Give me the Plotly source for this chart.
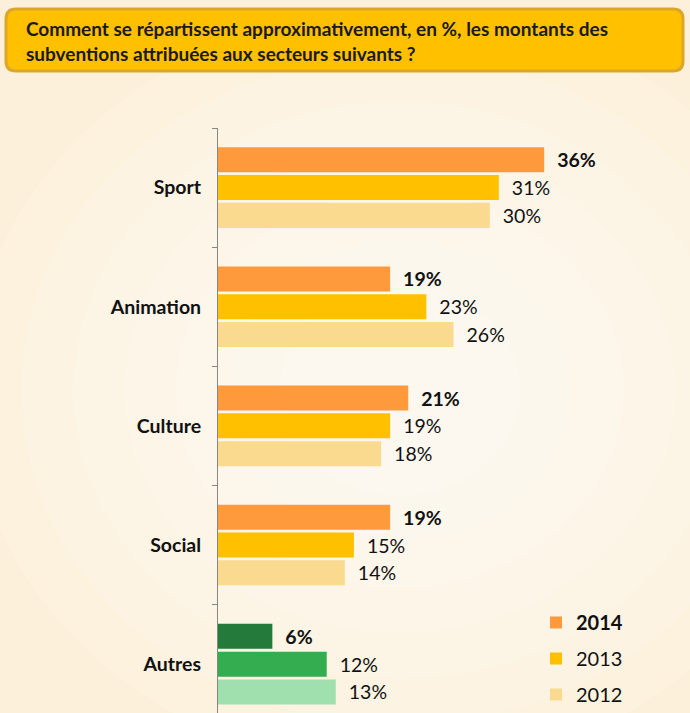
import plotly.graph_objects as go

# data
sectors = ["Sport", "Animation", "Culture", "Social", "Autres"]
years = ["2014", "2013", "2012"]
v2014 = [36, 19, 21, 19, 6]
v2013 = [31, 23, 19, 15, 12]
v2012 = [30, 26, 18, 14, 13]

colors = {
    "2014": ["#FF9A3C"] * 4 + ["#237A3B"],
    "2013": ["#FFC000"] * 4 + ["#34AD50"],
    "2012": ["#F9DA8F"] * 4 + ["#A0E0AF"],
}

FONT = "Lato, Carlito, sans-serif"
W, H = 690, 713
L, T = 218, 128
plot_w, plot_h = W - L, H - T


def px(x):
    return (x - L) / plot_w


def py(y):
    return (H - y) / plot_h


fig = go.Figure()
for yr, vals in zip(years, [v2014, v2013, v2012]):
    bold = yr == "2014"
    txt = ["\u00a0\u00a0" + (f"<b>{v}%</b>" if bold else f"{v}%") for v in vals]
    fig.add_trace(go.Bar(
        y=sectors, x=vals, orientation="h",
        name=f"<b>{yr}</b>" if bold else yr,
        legendgroup=yr,
        marker=dict(color=colors[yr], line=dict(width=0)),
        text=txt, textposition="outside",
        textfont=dict(size=19.5, color="#111111", family=FONT),
        cliponaxis=False,
        hoverinfo="skip",
    ))

# soft light glow in the middle of the background
shapes = []
for r in [1.0, 0.88, 0.76, 0.64, 0.52, 0.40, 0.28]:
    cx, cy = 400, 390
    rx, ry = 430 * r, 380 * r
    shapes.append(dict(type="circle", xref="paper", yref="paper", layer="below",
                       x0=px(cx - rx), x1=px(cx + rx), y0=py(cy + ry), y1=py(cy - ry),
                       fillcolor="rgba(255,255,255,0.13)", line=dict(width=0)))

# title box with rounded corners
x0, x1, y0, y1, rr = 6, 683, 9, 71, 10
rx_, ry_ = rr / plot_w, rr / plot_h
a, b, c, d = px(x0), px(x1), py(y1), py(y0)
path = (f"M {a+rx_},{d} L {b-rx_},{d} Q {b},{d} {b},{d-ry_} L {b},{c+ry_} Q {b},{c} {b-rx_},{c} "
        f"L {a+rx_},{c} Q {a},{c} {a},{c+ry_} L {a},{d-ry_} Q {a},{d} {a+rx_},{d} Z")
shapes.append(dict(type="path", xref="paper", yref="paper", path=path,
                   fillcolor="#FFC000", line=dict(color="#DDA629", width=3)))

fig.update_layout(
    width=W, height=H,
    margin=dict(l=L, r=0, t=T, b=0, autoexpand=False),
    paper_bgcolor="#FCF0DA",
    plot_bgcolor="rgba(0,0,0,0)",
    barmode="group", bargap=0.3, bargroupgap=0.1,
    font=dict(family=FONT, color="#111111"),
    xaxis=dict(range=[0, plot_w / 9.06], visible=False, fixedrange=True),
    yaxis=dict(
        range=[4.41, -0.5], tickson="boundaries", ticks="outside", ticklen=5,
        tickcolor="#868686", showline=True, linecolor="#868686", linewidth=1,
        showgrid=False, zeroline=False, ticklabelstandoff=12, fixedrange=True,
        tickfont=dict(size=19.5, color="#111111", family=FONT, weight="bold"),
    ),
    legend=dict(x=px(536), y=py(603), xanchor="left", yanchor="top",
                bgcolor="rgba(0,0,0,0)", tracegroupgap=7, traceorder="grouped",
                font=dict(size=20, color="#111111"), itemwidth=30),
    shapes=shapes,
    annotations=[dict(
        xref="paper", yref="paper", x=px(24), y=py(41), xanchor="left", yanchor="middle",
        align="left", showarrow=False,
        text="<b>Comment se répartissent approximativement, en %, les montants des<br>"
             "subventions attribuées aux secteurs suivants ?</b>",
        font=dict(size=19, color="#1a1a1a"),
    )],
)

fig.write_html("out.html", config={"displayModeBar": False},
               post_script="document.body.style.margin='0';")
